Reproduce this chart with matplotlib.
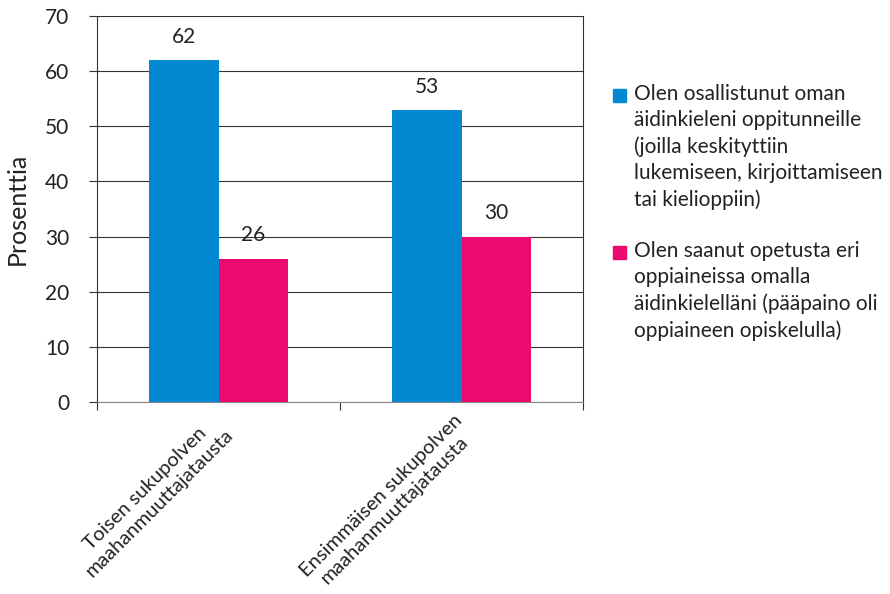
import matplotlib
matplotlib.use("Agg")
import matplotlib.pyplot as plt
from matplotlib.patches import Rectangle
import numpy as np

plt.rcParams['font.family'] = ['Lato', 'DejaVu Sans']

categories = ["Toisen sukupolven\nmaahanmuuttajatausta",
              "Ensimmäisen sukupolven\nmaahanmuuttajatausta"]
series_names = [
    "Olen osallistunut oman\näidinkieleni oppitunneille\n(joilla keskityttiin\nlukemiseen, kirjoittamiseen\ntai kielioppiin)",
    "Olen saanut opetusta eri\noppiaineissa omalla\näidinkielelläni (pääpaino oli\noppiaineen opiskelulla)",
]
values_lessons = [62, 53]
values_subjects = [26, 30]
colors = ["#0288d1", "#eb0b6f"]
yticks = [0, 10, 20, 30, 40, 50, 60, 70]

fig = plt.figure(figsize=(8.9, 5.94), dpi=100)
ax = fig.add_axes([97/890, 1-402/594, (583-97)/890, (402-16)/594])

x = np.arange(len(categories)) + 0.5
w = 0.285
b1 = ax.bar(x - w/2, values_lessons, w, color=colors[0], zorder=3)
b2 = ax.bar(x + w/2, values_subjects, w, color=colors[1], zorder=3)
for bars in (b1, b2):
    for r in bars:
        ax.text(r.get_x() + r.get_width()/2, r.get_height() + 4.2,
                f"{r.get_height():.0f}", ha="center", va="center",
                fontsize=15, color="#222222", zorder=4)

ax.set_xlim(0, len(categories))
ax.set_ylim(0, 70)
ax.set_yticks(yticks)
ax.yaxis.grid(True, color="#333333", linewidth=0.8, zorder=0)
ax.tick_params(axis="y", labelsize=15, length=6, width=0.8, color="#333333",
               labelcolor="#222222", pad=14)
ax.set_ylabel("Prosenttia", fontsize=18, color="#222222", labelpad=12)

ax.set_xticks([0, 1, 2])
ax.set_xticklabels([])
ax.tick_params(axis="x", length=6, width=0.8, color="#333333", direction="out")
for xi, lab in zip(x, categories):
    ax.text(xi - 0.035, -1.8, lab, rotation=45, ha="right", va="top",
            rotation_mode="anchor", multialignment="center",
            fontsize=14.5, color="#222222", linespacing=1.2)

ax.spines["top"].set_visible(False)
ax.spines["right"].set_color("#333333")
ax.spines["left"].set_color("#333333")
ax.spines["bottom"].set_color("#888888")
for s in ax.spines.values():
    s.set_linewidth(0.8)

# legend drawn as squares with wrapped text beside them
legend_y = [95, 252]
for yy, name, c in zip(legend_y, series_names, colors):
    fig.patches.append(Rectangle((613/890, 1-(yy+7)/594), 13/890, 13/594,
                                 transform=fig.transFigure, color=c))
    fig.text(634/890, 1-(yy-11)/594, name, ha="left", va="top",
             fontsize=15, color="#222222", linespacing=1.38)

fig.savefig("out.png", dpi=100)
